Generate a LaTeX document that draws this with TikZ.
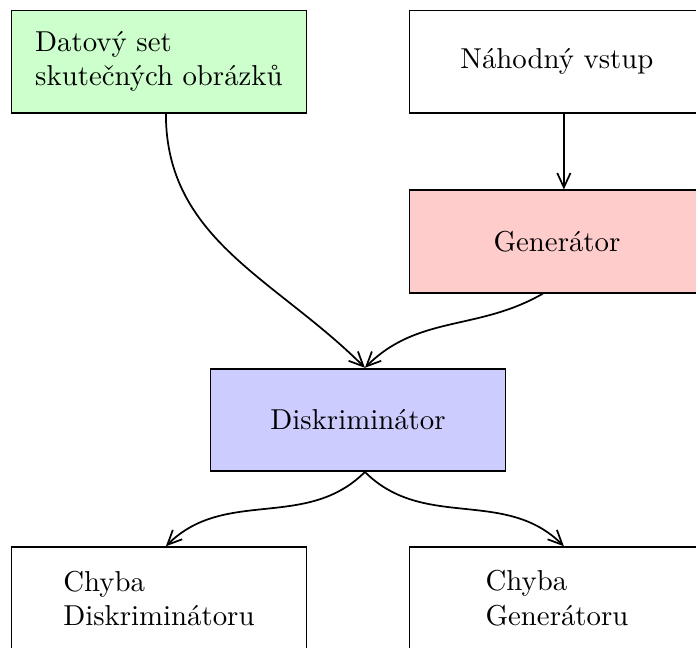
\documentclass[tikz,border=0pt]{standalone}
\usepackage{tikz}
\usetikzlibrary{positioning,arrows.meta}

\begin{document}
\begin{tikzpicture}[box/.style={draw, semithick, minimum width=3.6cm, minimum height=1.25cm, align=left},
        flow/.style={-{Straight Barb[length=5pt,width=4.6pt]}, semithick}]
                \useasboundingbox (0,0) rectangle (8.494,-7.908);
                \node[box, fill=green!20] (data) at (1.94,-0.752) {Datový set\\skutečných obrázků};
                \node[box] (noise) at (6.797,-0.752) {Náhodný vstup};
                \node[box, fill=red!20] (gen) at (6.797,-2.948) {Generátor};
                \node[box, fill=blue!20] (disc) at (4.369,-5.124) {Diskriminátor};
                \node[box] (errD) at (1.94,-7.302) {Chyba\\Diskriminátoru};
                \node[box] (errG) at (6.797,-7.302) {Chyba\\Generátoru};
                \draw[flow] ([xshift=2.4pt]data.south) to[out=-90, in=135] ([xshift=2.4pt]disc.north);
                \draw[flow] ([xshift=2.4pt]noise.south) -- ([xshift=2.4pt]gen.north);
                \draw[flow] ([xshift=-4.9pt]gen.south) to[out=210, in=45] ([xshift=2.4pt]disc.north);
                \draw[flow] ([xshift=2.4pt]disc.south) to[out=225, in=45] ([xshift=2.4pt]errD.north);
                \draw[flow] ([xshift=2.4pt]disc.south) to[out=-45, in=135] ([xshift=2.4pt]errG.north);
            \end{tikzpicture}
\end{document}
